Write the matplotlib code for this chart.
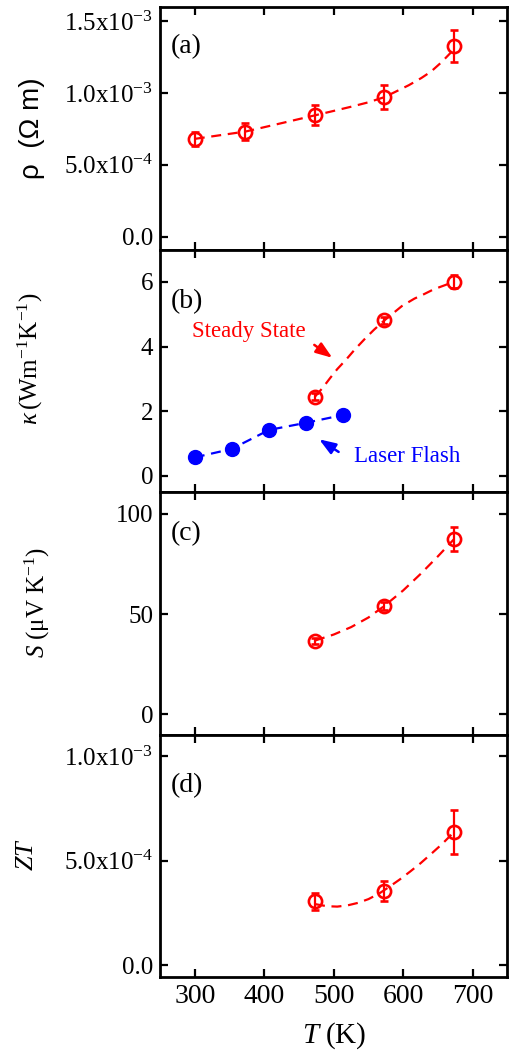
import matplotlib
matplotlib.use("Agg")
import matplotlib.pyplot as plt

plt.rcParams['font.family'] = ['Liberation Serif', 'DejaVu Sans']
plt.rcParams['font.size'] = 18
plt.rcParams['mathtext.fontset'] = 'custom'
plt.rcParams['mathtext.rm'] = 'Liberation Serif'
plt.rcParams['mathtext.it'] = 'Liberation Serif:italic'
plt.rcParams['mathtext.sf'] = 'Liberation Sans'

# temperatures (K)
T_rho = [300, 373, 473, 573, 673]
T_hot = [473, 573, 673]
T_flash = [300, 353, 407, 460, 513]

# (a) resistivity (Ohm m)
rho = [6.81e-4, 7.32e-4, 8.45e-4, 9.74e-4, 1.329e-3]
rho_err = [0.5e-4, 0.58e-4, 0.7e-4, 0.84e-4, 1.1e-4]
rho_fit_T = [300, 373, 420, 473, 500, 525, 550, 573, 590, 608, 626, 640, 655, 670]
rho_fit = [6.81e-4, 7.32e-4, 7.85e-4, 8.45e-4, 8.76e-4, 9.05e-4, 9.36e-4, 9.72e-4,
           1.012e-3, 1.055e-3, 1.105e-3, 1.15e-3, 1.215e-3, 1.29e-3]

# (b) thermal conductivity
kappa_ss = [2.45, 4.81, 6.0]
kappa_ss_err = [0.1, 0.1, 0.2]
kappa_ss_fit_T = [473, 484, 495, 505, 518, 530, 544, 558, 573, 598, 616, 630, 644, 673]
kappa_ss_fit = [2.45, 2.72, 3.03, 3.3, 3.6, 3.9, 4.22, 4.52, 4.81, 5.25, 5.48, 5.62, 5.77, 6.0]
kappa_lf = [0.57, 0.83, 1.42, 1.64, 1.88]

# (c) Seebeck coefficient
seeb = [36.8, 54.1, 87.3]
seeb_err = [1.5, 2.0, 6.1]
seeb_fit_T = [473, 500, 525, 550, 573, 600, 625, 650, 673]
seeb_fit = [36.8, 39.8, 43.5, 48.3, 54.1, 61.8, 70.0, 78.8, 87.3]

# (d) figure of merit
zt = [3.06e-4, 3.55e-4, 6.37e-4]
zt_err = [0.41e-4, 0.5e-4, 1.07e-4]
zt_fit_T = [473, 490, 505, 520, 535, 550, 565, 580, 595, 610, 625, 640, 656, 673]
zt_fit = [2.92e-4, 2.82e-4, 2.80e-4, 2.86e-4, 2.98e-4, 3.16e-4, 3.42e-4, 3.75e-4,
          4.10e-4, 4.48e-4, 4.88e-4, 5.32e-4, 5.80e-4, 6.37e-4]

x_ticks = [300, 400, 500, 600, 700]
a_ticks = [0.0, 5e-4, 1e-3, 1.5e-3]
a_labels = ['0.0', r'5.0x10$^{\mathregular{-4}}$', r'1.0x10$^{\mathregular{-3}}$', r'1.5x10$^{\mathregular{-3}}$']
b_ticks = [0, 2, 4, 6]
c_ticks = [0, 50, 100]
d_ticks = [0.0, 5e-4, 1e-3]
d_labels = ['0.0', r'5.0x10$^{\mathregular{-4}}$', r'1.0x10$^{\mathregular{-3}}$']

RED = '#FF0000'
BLUE = '#0000FF'

fig = plt.figure(figsize=(5.09, 10.51), dpi=100)
left, width = 160 / 509, 347.5 / 509
h = 242.5 / 1051
b0 = 1 - 977 / 1051
axes = [fig.add_axes([left, b0 + k * h, width, h]) for k in (3, 2, 1, 0)]
ax_a, ax_b, ax_c, ax_d = axes

open_kw = dict(fmt='o', color=RED, mfc='none', mec=RED, ms=9.5, mew=1.9,
               elinewidth=1.6, capsize=2.6, capthick=1.6, zorder=3)
dash_kw = dict(ls=(0, (4.5, 3)), lw=1.6)
arrow_kw = dict(arrowstyle='-|>,head_length=0.55,head_width=0.2', lw=1.8, shrinkA=0, shrinkB=0)

# (a)
ax_a.plot(rho_fit_T, rho_fit, color=RED, **dash_kw)
ax_a.errorbar(T_rho, rho, yerr=rho_err, **open_kw)
ax_a.set_ylim(-0.9e-4, 1.6e-3)
ax_a.set_yticks(a_ticks)
ax_a.set_yticklabels(a_labels)
ax_a.set_ylabel('ρ  (Ω m)', family=['Liberation Sans'], fontsize=20)
ax_a.yaxis.set_label_coords(-0.33, 0.5)

# (b)
ax_b.plot(kappa_ss_fit_T, kappa_ss_fit, color=RED, **dash_kw)
ax_b.errorbar(T_hot, kappa_ss, yerr=kappa_ss_err, **open_kw)
ax_b.plot(T_flash, kappa_lf, color=BLUE, **dash_kw)
ax_b.plot(T_flash, kappa_lf, 'o', color=BLUE, ms=10, zorder=3)
ax_b.set_ylim(-0.5, 7.0)
ax_b.set_yticks(b_ticks)
ax_b.set_ylabel(r'$\kappa\,\mathrm{(Wm^{-1}K^{-1})}$')
ax_b.yaxis.set_label_coords(-0.33, 0.548)
ax_b.annotate('', xy=(498, 3.65), xytext=(472, 4.05),
              arrowprops=dict(color=RED, **arrow_kw))
ax_b.text(378, 4.47, 'Steady State', color=RED, fontsize=16.5, family='Liberation Serif',
          ha='center', va='center')
ax_b.annotate('', xy=(479, 1.13), xytext=(507, 0.74),
              arrowprops=dict(color=BLUE, **arrow_kw))
ax_b.text(606, 0.61, 'Laser Flash', color=BLUE, fontsize=16.5, family='Liberation Serif',
          ha='center', va='center')

# (c)
ax_c.plot(seeb_fit_T, seeb_fit, color=RED, **dash_kw)
ax_c.errorbar(T_hot, seeb, yerr=seeb_err, **open_kw)
ax_c.set_ylim(-10, 110.8)
ax_c.set_yticks(c_ticks)
ax_c.set_ylabel(r'$S\ \mathrm{(\mu V\ K^{-1})}$')
ax_c.yaxis.set_label_coords(-0.31, 0.544)

# (d)
ax_d.plot(zt_fit_T, zt_fit, color=RED, **dash_kw)
ax_d.errorbar(T_hot, zt, yerr=zt_err, **open_kw)
ax_d.set_ylim(-0.57e-4, 1.104e-3)
ax_d.set_yticks(d_ticks)
ax_d.set_yticklabels(d_labels)
ax_d.set_ylabel(r'$ZT$', fontsize=19)
ax_d.yaxis.set_label_coords(-0.35, 0.506)
ax_d.set_xlabel(r'$T\ \mathrm{(K)}$', fontsize=21, labelpad=8)

panel_y = [0.835, 0.785, 0.827, 0.79]
for ax, tag, py in zip(axes, ['(a)', '(b)', '(c)', '(d)'], panel_y):
    ax.set_xlim(250, 750)
    ax.set_xticks(x_ticks)
    ax.tick_params(direction='in', top=True, right=True, length=6, width=1.6, pad=5)
    ax.tick_params(axis='y', labelsize=18)
    ax.tick_params(axis='x', labelsize=20)
    for sp in ax.spines.values():
        sp.set_linewidth(2.0)
    ax.text(0.03, py, tag, transform=ax.transAxes, fontsize=20, ha='left', va='center')
    if ax is not ax_d:
        ax.tick_params(labelbottom=False)

fig.savefig('out.png', dpi=100)
